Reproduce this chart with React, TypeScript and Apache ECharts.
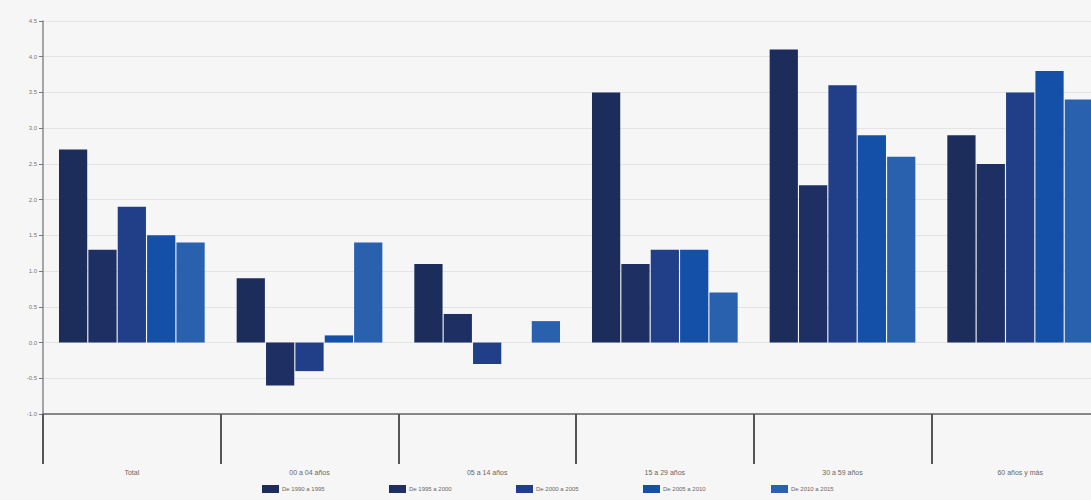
import React, { useEffect, useRef } from "react";
import * as echarts from "echarts";

const categories = ["Total", "00 a 04 años", "05 a 14 años", "15 a 29 años", "30 a 59 años", "60 años y más"];
const seriesNames = ["De 1990 a 1995", "De 1995 a 2000", "De 2000 a 2005", "De 2005 a 2010", "De 2010 a 2015"];
const s1990 = [2.7, 0.9, 1.1, 3.5, 4.1, 2.9];
const s1995 = [1.3, -0.6, 0.4, 1.1, 2.2, 2.5];
const s2000 = [1.9, -0.4, -0.3, 1.3, 3.6, 3.5];
const s2005 = [1.5, 0.1, 0, 1.3, 2.9, 3.8];
const s2010 = [1.4, 1.4, 0.3, 0.7, 2.6, 3.4];
const seriesValues = [s1990, s1995, s2000, s2005, s2010];
const colors = ["#1c2c5b", "#1e2f63", "#203f88", "#1450a7", "#2a61af"];
const legendLeft = [262, 389, 516, 643, 771];

export default function App() {
  const ref = useRef<HTMLDivElement>(null);
  useEffect(() => {
    if (!ref.current) return;
    const chart = echarts.init(ref.current, null, { renderer: "svg" });
    const font = "Liberation Sans, Arial, sans-serif";
    chart.setOption({
      animation: false,
      backgroundColor: "#f6f6f6",
      textStyle: { fontFamily: font },
      legend: seriesNames.map((n, i) => ({
        data: [n],
        left: legendLeft[i],
        top: 485,
        itemWidth: 17,
        itemHeight: 8,
        itemGap: 0,
        icon: "rect",
        padding: 0,
        selectedMode: false,
        textStyle: { fontSize: 6, color: "#666", fontFamily: font, padding: [0, 0, 0, -2] },
      })),
      grid: { left: 43, right: 0, top: 21, bottom: 86, containLabel: false },
      xAxis: {
        type: "category",
        data: categories,
        boundaryGap: true,
        position: "bottom",
        axisLine: { show: true, onZero: false, lineStyle: { color: "#666", width: 1.5 } },
        axisTick: { show: true, length: 50, alignWithLabel: false, lineStyle: { color: "#555", width: 2 } },
        axisLabel: { margin: 55, fontSize: 7, color: "#666", fontFamily: font },
        splitLine: { show: false },
      },
      yAxis: {
        type: "value",
        min: -1,
        max: 4.5,
        interval: 0.5,
        axisLine: { show: true, lineStyle: { color: "#8a8a8a", width: 1.5 } },
        axisTick: { show: true, length: 4, lineStyle: { color: "#777" } },
        axisLabel: {
          fontSize: 6,
          color: "#777",
          margin: 6,
          fontFamily: font,
          formatter: (v: number) => v.toFixed(1),
        },
        splitLine: { show: true, lineStyle: { color: "#e3e3e3", width: 1 } },
      },
      series: seriesNames.map((n, i) => ({
        name: n,
        type: "bar",
        data: seriesValues[i],
        barGap: "4%",
        barCategoryGap: "18%",
        itemStyle: { color: colors[i] },
      })),
    });
    return () => chart.dispose();
  }, []);
  return (
    <div style={{ position: "absolute", left: 0, top: 0, width: 1091, height: 500, overflow: "hidden", background: "#f6f6f6" }}>
      <div ref={ref} style={{ width: 1109, height: 500 }} />
    </div>
  );
}
